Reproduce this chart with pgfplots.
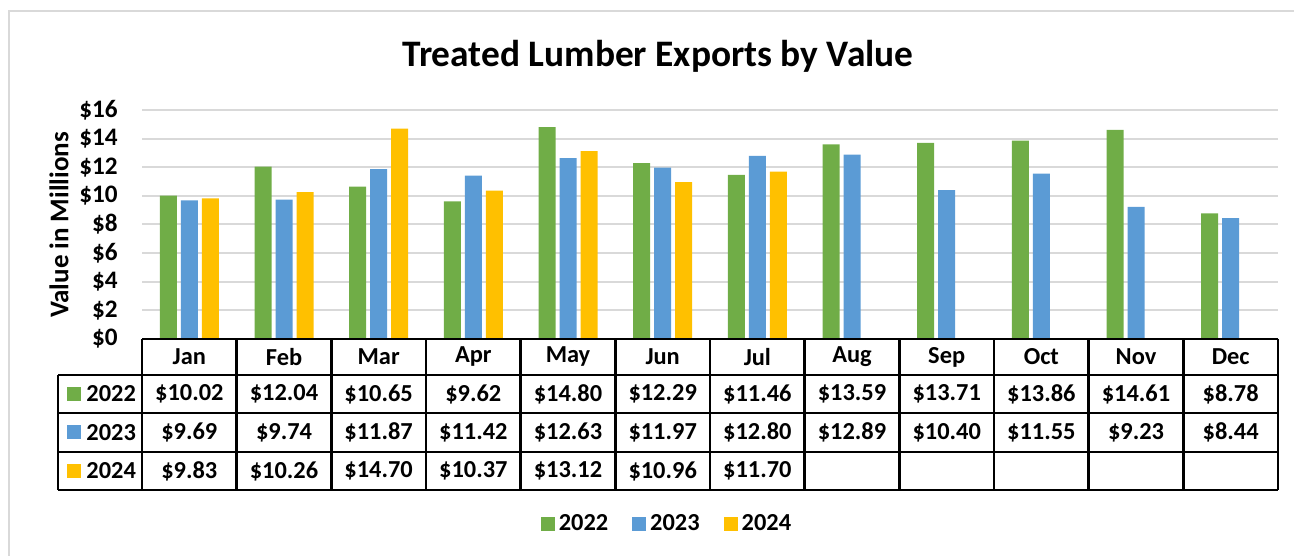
\documentclass[border=0pt]{standalone}
\usepackage{fontspec}
\setmainfont{Carlito}
\usepackage{pgfplots}
\pgfplotsset{compat=1.18}
\definecolor{g22}{HTML}{70AD47}
\definecolor{b23}{HTML}{5B9BD5}
\definecolor{y24}{HTML}{FFC000}
\definecolor{gridg}{HTML}{D9D9D9}
\newcommand\tf{\fontsize{12.2}{14}\selectfont\bfseries}
\begin{document}
\begin{tikzpicture}[x=0.5pt,y=0.5pt]
\path[use as bounding box] (0,0) rectangle (1294,556);
\draw[gridg, line width=1pt] (9,0) -- (9,545) -- (1294,545);
\begin{axis}[
 at={(71pt,108.5pt)}, anchor=south west,
 scale only axis, width=568pt, height=114.5pt,
 xmin=-0.5, xmax=11.5, ymin=0, ymax=16,
 ytick={0,2,...,16}, yticklabels={\$0,\$2,\$4,\$6,\$8,\$10,\$12,\$14,\$16},
 xtick=\empty,
 ymajorgrids, grid style={gridg, line width=1pt},
 axis line style={draw=none},
 major tick length=0pt,
 yticklabel style={font=\fontsize{12.6}{14}\selectfont\bfseries, inner sep=0pt, xshift=-12pt},
 ybar=2pt, bar width=8.5pt,
 legend style={at={(0.463,-0.808)}, anchor=center, draw=none, font=\tf, legend columns=3,
   /tikz/every even column/.append style={column sep=10pt}},
 legend image code/.code={\fill[#1] (0pt,-3.5pt) rectangle (7pt,3.5pt);},
 clip=false,
]
\addplot[fill=g22, draw=none] coordinates {(0,10.02) (1,12.04) (2,10.65) (3,9.62) (4,14.80) (5,12.29) (6,11.46) (7,13.59) (8,13.71) (9,13.86) (10,14.61) (11,8.78)};
\addplot[fill=b23, draw=none] coordinates {(0,9.69) (1,9.74) (2,11.87) (3,11.42) (4,12.63) (5,11.97) (6,12.80) (7,12.89) (8,10.40) (9,11.55) (10,9.23) (11,8.44)};
\addplot[fill=y24, draw=none] coordinates {(0,9.83) (1,10.26) (2,14.70) (3,10.37) (4,13.12) (5,10.96) (6,11.70)};
\legend{2022,2023,2024}
\end{axis}
% title and y label
\node[font=\fontsize{18.7}{22}\selectfont\bfseries] at (658,500) {Treated Lumber Exports by Value};
\node[font=\fontsize{13.5}{16}\selectfont\bfseries, rotate=90] at (59,331) {Value in Millions};
% data table
\begin{scope}[line width=1.2pt]
\draw (142,217) -- (1278,217);
\draw (58,181) -- (1278,181);
\draw (58,143) -- (1278,143);
\draw (58,104) -- (1278,104);
\draw (58,66) -- (1278,66);
\draw (58,181) -- (58,66);
\foreach \k in {0,...,12} \draw ({142+\k*94.667},217) -- ({142+\k*94.667},66);
\end{scope}
\foreach \m [count=\i from 0] in {Jan,Feb,Mar,Apr,May,Jun,Jul,Aug,Sep,Oct,Nov,Dec}
  \node[font=\tf] at ({142+(\i+0.5)*94.667},199) {\m};
\foreach \v [count=\i from 0] in {\$10.02,\$12.04,\$10.65,\$9.62,\$14.80,\$12.29,\$11.46,\$13.59,\$13.71,\$13.86,\$14.61,\$8.78}
  \node[font=\tf] at ({142+(\i+0.5)*94.667},162) {\v};
\foreach \v [count=\i from 0] in {\$9.69,\$9.74,\$11.87,\$11.42,\$12.63,\$11.97,\$12.80,\$12.89,\$10.40,\$11.55,\$9.23,\$8.44}
  \node[font=\tf] at ({142+(\i+0.5)*94.667},123.5) {\v};
\foreach \v [count=\i from 0] in {\$9.83,\$10.26,\$14.70,\$10.37,\$13.12,\$10.96,\$11.70}
  \node[font=\tf] at ({142+(\i+0.5)*94.667},85) {\v};
\fill[g22] (67,155) rectangle (81,169);
\fill[b23] (67,116.5) rectangle (81,130.5);
\fill[y24] (67,78) rectangle (81,92);
\node[font=\tf, anchor=west, inner sep=0pt] at (86,162) {2022};
\node[font=\tf, anchor=west, inner sep=0pt] at (86,123.5) {2023};
\node[font=\tf, anchor=west, inner sep=0pt] at (86,85) {2024};
\end{tikzpicture}
\end{document}
